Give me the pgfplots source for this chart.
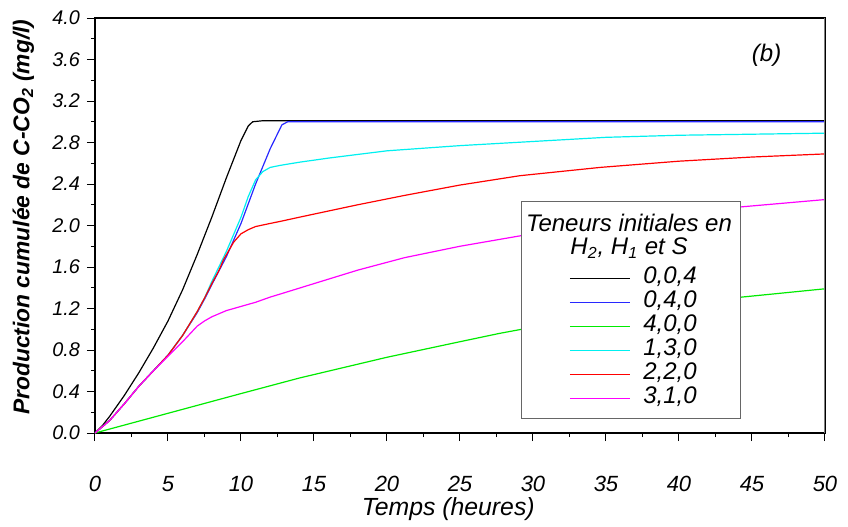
\documentclass[border=0pt]{standalone}
\usepackage{fontspec}
\setmainfont{Liberation Sans}
\usepackage{pgfplots}
\pgfplotsset{compat=1.18}
\usepackage{pgfplotstable}

\definecolor{cBlue}{RGB}{40,40,255}
\definecolor{cGreen}{RGB}{0,235,0}
\definecolor{cCyan}{RGB}{0,240,240}
\definecolor{cRed}{RGB}{255,0,0}
\definecolor{cMag}{RGB}{255,0,255}

% C-CO2 cumulee, temps en heures
\pgfplotstableread{
t v
0 0
0.5 0.07
1 0.16
2 0.36
3 0.58
4 0.82
5 1.08
6 1.38
7 1.72
8 2.08
9 2.46
10 2.82
10.5 2.96
10.8 3.0
11.5 3.01
50 3.01
}\tabA
\pgfplotstableread{
t v
0 0
1 0.12
2 0.28
3 0.45
4 0.6
5 0.75
6 0.94
7 1.16
7.5 1.29
8 1.43
9 1.70
10 2.02
11 2.40
12 2.74
12.8 2.97
13.2 3.0
50 3.0
}\tabB
\pgfplotstableread{
t v
0 0
5 0.19
10 0.38
14 0.53
20 0.73
25 0.88
27.7 0.96
30 1.02
35 1.13
40 1.23
44.3 1.31
50 1.39
}\tabC
\pgfplotstableread{
t v
0 0
1 0.12
2 0.28
3 0.45
4 0.6
5 0.75
6 0.94
7 1.17
7.5 1.30
8 1.46
9 1.75
10 2.08
10.5 2.28
11 2.44
11.5 2.52
12 2.56
12.7 2.58
14 2.61
16 2.65
20 2.72
25 2.77
30 2.81
35 2.85
40 2.87
45 2.88
50 2.89
}\tabD
\pgfplotstableread{
t v
0 0
1 0.12
2 0.28
3 0.45
4 0.6
5 0.75
6 0.94
7 1.17
7.5 1.30
8 1.44
8.5 1.57
8.8 1.67
9.5 1.84
10 1.92
10.5 1.96
11 1.99
12 2.02
12.7 2.04
14 2.08
16 2.14
18 2.20
21.2 2.29
25 2.39
29.1 2.48
34.6 2.56
40 2.62
45 2.66
50 2.69
}\tabE
\pgfplotstableread{
t v
0 0
1 0.12
2 0.28
3 0.45
4 0.6
5 0.74
6 0.88
7 1.03
7.5 1.08
8 1.12
9 1.18
10 1.22
11 1.26
12 1.31
12.7 1.34
15 1.44
18 1.57
21.2 1.69
25 1.80
29.1 1.90
35 2.03
40 2.11
44.3 2.18
50 2.25
}\tabF

\begin{document}
\begin{tikzpicture}
\path[use as bounding box] (-47.5pt,-46.5pt) rectangle (376.5pt,216.5pt);
\begin{axis}[
    scale only axis,
    width=365pt, height=207.5pt,
    xmin=0, xmax=50, ymin=0, ymax=4,
    xtick={0,5,...,50}, ytick={0,0.4,...,4.0},
    minor x tick num=1, minor y tick num=1,
    tick align=outside, tick pos=left,
    major tick length=4pt, minor tick length=2pt,
    tick style={black, line width=0.5pt},
    axis line style={line width=0.6pt},
    /pgf/number format/assume math mode=true,
    yticklabel={\pgfmathprintnumber[fixed,fixed zerofill,precision=1]{\tick}},
    yticklabel style={font=\fontsize{9.9}{11}\selectfont\itshape},
    xticklabel style={font=\fontsize{11}{12}\selectfont\itshape, yshift=-14pt},
    xlabel={Temps (heures)},
    xlabel style={font=\fontsize{12.4}{14}\selectfont\itshape, at={(axis description cs:0.484,-0.198)}, anchor=base},
    ylabel={Production cumulée de C-CO\textsubscript{2} (mg/l)},
    ylabel style={font=\fontsize{11.4}{13}\selectfont\bfseries\itshape, at={(axis description cs:-0.098,0.52)}, anchor=center, rotate=0},
    legend cell align=left,
    legend image code/.code={\draw[#1] (0pt,0pt) -- (30pt,0pt);},
    legend style={draw=none, fill=none, inner sep=0pt,
        at={(rel axis cs:0.649,0.402)}, anchor=north west,
        font=\fontsize{12}{13}\selectfont\itshape,
        nodes={inner sep=0pt, text height=8.7pt, text depth=3.3pt},
        /tikz/every odd column/.append style={column sep=6.5pt}},
    every axis plot/.append style={line width=0.6pt},
]
\addplot[black] table[x=t,y=v] {\tabA};
\addplot[cBlue] table[x=t,y=v] {\tabB};
\addplot[cGreen] table[x=t,y=v] {\tabC};
\addplot[cCyan] table[x=t,y=v] {\tabD};
\addplot[cRed] table[x=t,y=v] {\tabE};
\addplot[cMag] table[x=t,y=v] {\tabF};
\legend{{0,0,4},{0,4,0},{4,0,0},{1,3,0},{2,2,0},{3,1,0}}
\draw[gray!80!black, line width=0.6pt, fill=white] (rel axis cs:0.584,0.034) rectangle (rel axis cs:0.884,0.557);
\node[font=\fontsize{12}{13}\selectfont\itshape, anchor=center] at (rel axis cs:0.7315,0.506) {Teneurs initiales en};
\node[font=\fontsize{12}{13}\selectfont\itshape, anchor=center] at (rel axis cs:0.7315,0.446) {H\textsubscript{2}, H\textsubscript{1} et S};
\node[font=\fontsize{12}{13}\selectfont\itshape] at (axis cs:46,3.64) {(b)};
\draw[gray, line width=0.6pt] (rel axis cs:1,0) -- (rel axis cs:1,1);
\end{axis}
\end{tikzpicture}
\end{document}
